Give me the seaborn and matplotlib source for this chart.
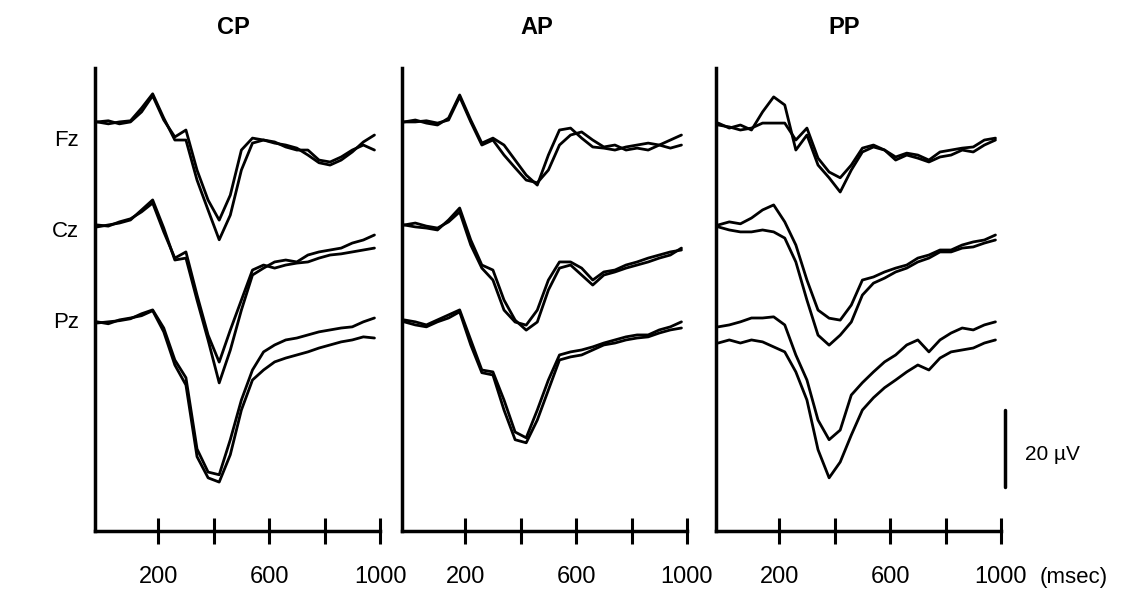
import numpy as np
import pandas as pd
import matplotlib
matplotlib.use("Agg")
import matplotlib.pyplot as plt
import seaborn as sns

# ------- DATA (uV, negative up) --------------------------------------
time_ms = [-20, 20, 60, 100, 140, 180, 220, 260, 300, 340, 380, 420, 460,
           500, 540, 580, 620, 660, 700, 740, 780, 820, 860, 900, 940, 980]

panels = ["CP", "AP", "PP"]
electrodes = ["Fz", "Cz", "Pz"]
tick_ms = [200, 400, 600, 800, 1000]
tick_labels = ["200", "", "600", "", "1000"]

# CP
cp_fz_a = [0, 0.5, 0, -0.3, -3.6, -7.3, -1.0, 4.7, 4.7, 15.1, 22.9, 30.6, 24.2,
           12.5, 5.5, 4.7, 5.5, 6.0, 6.8, 8.6, 10.6, 11.2, 9.9, 7.8, 5.2, 3.4]
cp_fz_b = [0, -0.3, 0.5, 0, -2.6, -6.8, -0.5, 3.9, 2.1, 12.5, 20.3, 25.5, 19.0,
           7.3, 4.2, 4.7, 5.2, 6.5, 7.3, 7.3, 9.9, 10.4, 9.1, 7.3, 6.0, 7.3]
cp_cz_a = [0.5, 0, -0.5, -1.3, -3.9, -6.5, 0.8, 9.1, 8.6, 19.5, 29.9, 41.0, 32.5,
           22.1, 13.0, 11.2, 9.6, 9.1, 9.6, 7.8, 7.0, 6.5, 6.0, 4.7, 3.9, 2.6]
cp_cz_b = [0, 0.3, -0.8, -1.6, -3.4, -5.7, 1.8, 8.6, 7.0, 18.2, 28.6, 35.6, 27.3,
           19.5, 11.7, 10.4, 11.2, 10.4, 9.9, 9.6, 8.6, 7.8, 7.5, 7.0, 6.5, 6.0]
cp_pz_a = [0, 0.5, -0.5, -1.0, -1.6, -2.9, 2.6, 11.2, 16.4, 35.0, 40.5, 41.6, 34.5,
           22.9, 15.1, 12.5, 10.4, 9.4, 8.6, 7.8, 6.8, 6.0, 5.2, 4.7, 3.9, 4.2]
cp_pz_b = [0.3, 0, -0.3, -0.8, -2.1, -3.1, 1.6, 9.9, 14.5, 33.0, 39.0, 39.7, 30.6,
           20.3, 12.5, 7.8, 6.0, 4.7, 4.2, 3.4, 2.6, 2.1, 1.6, 1.3, 0, -1.0]

# AP
ap_fz_a = [0, -0.5, 0.3, 0.8, -1.0, -7.0, -0.5, 5.5, 4.2, 6.0, 9.9, 13.8, 16.4,
           8.6, 2.1, 1.6, 4.2, 6.5, 6.8, 7.3, 6.5, 6.0, 5.5, 6.0, 4.7, 3.4]
ap_fz_b = [0, 0, -0.3, 0.3, -0.5, -6.5, 0, 6.0, 4.7, 8.6, 11.9, 15.1, 15.8,
           12.5, 6.0, 3.4, 2.6, 4.7, 6.5, 6.0, 7.3, 6.8, 7.3, 6.0, 6.8, 6.0]
ap_cz_a = [0, 0.5, 0.8, 1.3, -1.3, -4.4, 3.9, 10.4, 11.7, 19.5, 24.7, 27.3, 25.2,
           16.9, 11.2, 10.4, 13.0, 15.6, 13.0, 12.2, 11.2, 10.4, 9.6, 8.6, 7.8, 6.0]
ap_cz_b = [0, -0.5, 0.3, 0.8, -0.8, -3.4, 5.2, 11.2, 14.3, 22.1, 25.2, 26.0, 22.1,
           14.3, 9.6, 9.6, 11.2, 14.3, 12.2, 11.7, 10.4, 9.6, 8.6, 7.8, 7.0, 6.5]
ap_pz_a = [0, 0.8, 1.3, 0, -1.0, -2.6, 6.0, 13.2, 13.8, 22.9, 30.6, 31.4, 25.5,
           17.7, 9.9, 9.1, 8.6, 7.3, 6.0, 5.5, 4.7, 4.2, 3.9, 2.9, 2.1, 1.6]
ap_pz_b = [-0.5, 0, 0.8, -0.5, -1.8, -3.1, 4.7, 12.5, 13.0, 20.3, 28.6, 30.1, 22.9,
           15.1, 8.6, 7.8, 7.3, 6.5, 5.5, 4.7, 3.9, 3.4, 3.4, 2.1, 1.3, 0]

# PP
pp_fz_a = [0.3, 1.6, 0.8, 2.1, -2.6, -6.5, -4.4, 7.3, 3.4, 11.2, 14.5, 18.2, 12.5,
           7.8, 6.5, 7.3, 9.9, 8.6, 9.4, 10.4, 9.1, 8.6, 7.3, 7.8, 6.0, 4.7]
pp_fz_b = [0.8, 1.3, 2.1, 1.6, 0.3, 0.3, 0.3, 4.7, 1.6, 9.4, 13.0, 14.5, 11.2,
           6.8, 6.0, 7.3, 9.1, 8.1, 8.6, 9.9, 7.8, 7.3, 6.8, 6.5, 4.7, 4.2]
pp_cz_a = [0, -0.8, -0.3, -1.8, -3.9, -5.2, -0.8, 5.2, 14.3, 22.1, 24.2, 24.7, 20.8,
           14.3, 13.5, 12.2, 11.2, 10.4, 8.6, 7.8, 6.5, 6.5, 5.2, 4.4, 3.9, 2.6]
pp_cz_b = [0.5, 1.3, 1.8, 1.8, 1.3, 1.8, 3.4, 9.6, 19.5, 28.6, 31.2, 28.6, 25.2,
           18.2, 15.1, 13.8, 12.2, 11.2, 9.6, 8.6, 7.0, 7.0, 6.0, 5.7, 4.7, 3.9]
pp_pz_a = [1.3, 0.8, 0, -1.0, -1.0, -1.3, 0.8, 8.6, 15.1, 25.5, 30.6, 28.1, 19.0,
           15.8, 13.0, 10.4, 8.6, 6.0, 4.7, 7.8, 4.7, 2.9, 1.6, 2.1, 0.8, 0]
pp_pz_b = [5.5, 4.7, 5.5, 4.7, 5.2, 6.5, 7.8, 13.0, 20.3, 33.2, 40.5, 36.4, 29.4,
           22.9, 19.7, 17.1, 15.1, 13.0, 11.2, 12.5, 9.4, 7.8, 7.3, 6.8, 5.5, 4.7]

traces = {
    ("CP", "Fz"): (cp_fz_a, cp_fz_b), ("CP", "Cz"): (cp_cz_a, cp_cz_b), ("CP", "Pz"): (cp_pz_a, cp_pz_b),
    ("AP", "Fz"): (ap_fz_a, ap_fz_b), ("AP", "Cz"): (ap_cz_a, ap_cz_b), ("AP", "Pz"): (ap_pz_a, ap_pz_b),
    ("PP", "Fz"): (pp_fz_a, pp_fz_b), ("PP", "Cz"): (pp_cz_a, pp_cz_b), ("PP", "Pz"): (pp_pz_a, pp_pz_b),
}

# ------- LAYOUT ---------
row_offset = {"Fz": 0.0, "Cz": 26.75, "Pz": 51.9}   # stacking of the electrode rows
Y_TOP, Y_BOTTOM = -14.0, 106.2
X_LIM = (-28, 1000)
W, H = 1125, 596
axes_left_px = [95, 402, 716]
title_px = {"CP": 233, "AP": 537, "PP": 844}
label_px = {"Fz": (67, 141), "Cz": (65, 231), "Pz": (66, 322)}

rows = []
for (panel, elec), pair in traces.items():
    for cond, vals in zip(["a", "b"], pair):
        for t, v in zip(time_ms, vals):
            rows.append({"panel": panel, "elec": elec, "trace": f"{elec}_{cond}",
                         "t": t, "y": v + row_offset[elec]})
df = pd.DataFrame(rows)

# ------- PLOTTING ---------
sns.set_style("ticks")
plt.rcParams["font.family"] = ["Liberation Sans", "DejaVu Sans"]
plt.rcParams["text.color"] = "black"

fig = plt.figure(figsize=(W / 100, H / 100), dpi=100)
axes = []
for i, panel in enumerate(panels):
    ax = fig.add_axes([axes_left_px[i] / W, (H - 531) / H, 285 / W, (531 - 68) / H])
    sns.lineplot(data=df[df.panel == panel], x="t", y="y", units="trace",
                 estimator=None, color="black", linewidth=2.0, ax=ax, legend=False)
    ax.set_xlim(*X_LIM)
    ax.set_ylim(Y_BOTTOM, Y_TOP)
    sns.despine(ax=ax)
    for s in ["left", "bottom"]:
        ax.spines[s].set_linewidth(2.5)
        ax.spines[s].set_color("black")
    ax.set_xticks(tick_ms)
    ax.set_xticklabels(tick_labels)
    ax.tick_params(axis="x", direction="inout", length=19, width=2.2, pad=16,
                   labelsize=17, colors="black")
    ax.set_yticks([])
    ax.set_xlabel("")
    ax.set_ylabel("")
    fig.text(title_px[panel] / W, 1 - 27 / H, panel, ha="center", va="center",
             fontsize=17, fontweight="bold")
    axes.append(ax)

for elec, (px, py) in label_px.items():
    fig.text(px / W, 1 - py / H, elec, ha="center", va="center", fontsize=16)

# 20 uV calibration bar
ax_pp = axes[-1]
ax_pp.plot([1013, 1013], [74.8, 94.8], color="black", lw=2.5, clip_on=False)
fig.text(1025 / W, 1 - 455 / H, "20 µV", ha="left", va="center", fontsize=15)
fig.text(1040 / W, 1 - 577 / H, "(msec)", ha="left", va="center", fontsize=16)

fig.savefig("out.png", dpi=100)
